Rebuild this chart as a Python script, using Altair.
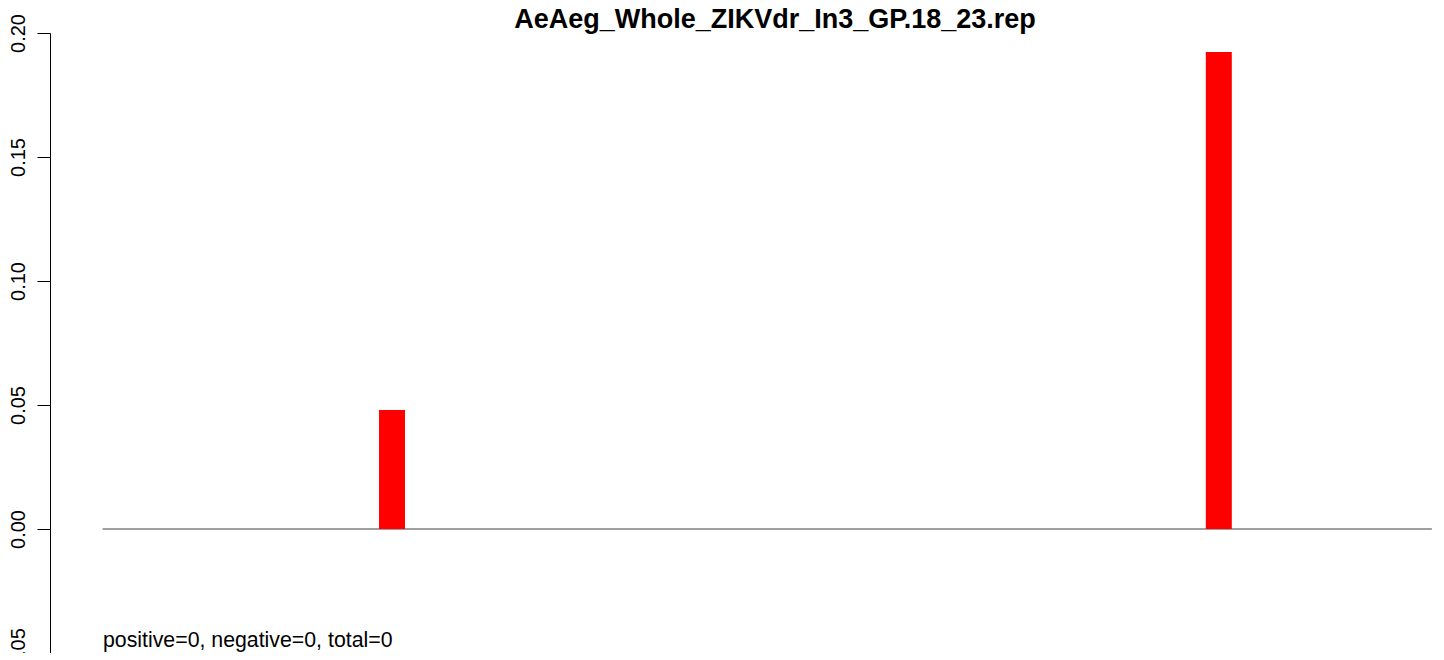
import altair as alt
import pandas as pd

# Data
bin_pos = [10, 36]            # bin index of the non-zero bars
bin_val = [0.048, 0.1923]     # bar heights
baseline_from = [0.9]
baseline_to = [42.7]
y_ticks = [-0.05, 0.0, 0.05, 0.10, 0.15, 0.20]
title_text = "AeAeg_Whole_ZIKVdr_In3_GP.18_23.rep"
note_text = "positive=0, negative=0, total=0"

bars_df = pd.DataFrame({"pos": bin_pos, "val": bin_val, "zero": [0.0] * len(bin_pos)})
base_df = pd.DataFrame({"x": baseline_from, "x2": baseline_to, "y": [0.0]})
note_df = pd.DataFrame({"t": [note_text]})
title_df = pd.DataFrame({"t": [title_text]})

FONT = "Liberation Sans"
xs = alt.Scale(domain=[-0.755, 42.83], nice=False, zero=False, padding=0)
ys = alt.Scale(domain=[-0.05, 0.20], nice=False, zero=False)

yaxis = alt.Axis(values=y_ticks, format=".2f", labelAngle=-90, labelAlign="center",
                 labelBaseline="alphabetic", labelFontSize=20, labelFont=FONT,
                 labelColor="black", tickSize=13, tickColor="black", domainColor="black",
                 tickWidth=1, domainWidth=1, labelPadding=13, grid=False, title=None)

bars = alt.Chart(bars_df).mark_bar(color="#ff0000", size=26).encode(
    x=alt.X("pos:Q", scale=xs, axis=None),
    y=alt.Y("val:Q", scale=ys, axis=yaxis),
    y2="zero:Q",
)

base = alt.Chart(base_df).mark_rule(color="#404040", strokeWidth=1).encode(
    x=alt.X("x:Q", scale=xs, axis=None), x2="x2:Q", y=alt.Y("y:Q", scale=ys, axis=yaxis)
)

note = alt.Chart(note_df).mark_text(align="left", baseline="alphabetic", fontSize=21.3,
                                    font=FONT, color="black").encode(
    x=alt.value(53), y=alt.value(614), text="t:N"
)

title = alt.Chart(title_df).mark_text(align="center", baseline="alphabetic", fontSize=27,
                                      fontWeight="bold", font=FONT, color="black").encode(
    x=alt.value(725), y=alt.value(-5), text="t:N"
)

chart = alt.layer(base, bars, note, title).properties(
    width=1386, height=620,
    autosize=alt.AutoSizeParams(type="none"),
    padding=alt.Padding(left=42, top=25, right=0, bottom=0),
).configure_view(stroke=None)

chart.save("out.html", embed_options={"renderer": "svg", "actions": False})
